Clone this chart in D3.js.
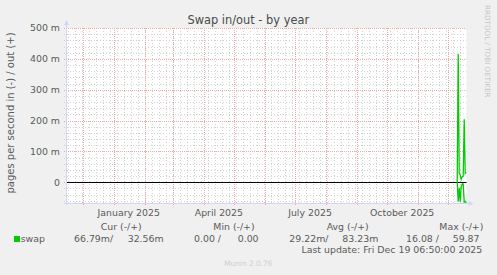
<!DOCTYPE html>
<html><head><meta charset="utf-8">
<script src="https://cdn.jsdelivr.net/npm/d3@7"></script>
<style>body{margin:0;background:#F0F0F0}svg{display:block}text{font-family:"DejaVu Sans",sans-serif}</style>
</head><body>
<script>
// ---- data ----
const title = "Swap in/out - by year";
const yLabel = "pages per second in (-) / out (+)";
const rangeStart = "2024-11-14T06:50:00Z";
const rangeEnd = "2025-12-19T06:50:00Z";
const dates = ["2025-12-10","2025-12-11","2025-12-12","2025-12-13","2025-12-14","2025-12-15","2025-12-16","2025-12-17","2025-12-18","2025-12-19"];
const swapIn  = [0, 0.062, 0.018, 0.063, 0.014, 0.005, 0.005, 0.064, 0.062, 0.067]; // drawn below zero
const swapOut = [0, 0.416, 0.031, 0.024, 0.010, 0.018, 0.020, 0.204, 0.029, 0.033];
const yTicks = [0, 0.1, 0.2, 0.3, 0.4, 0.5];
const yTickLabels = ["0", "100 m", "200 m", "300 m", "400 m", "500 m"];
const xLabelMonths = ["2025-01-01", "2025-04-01", "2025-07-01", "2025-10-01"];
const xLabels = ["January 2025", "April 2025", "July 2025", "October 2025"];
const legendHeaders = ["Cur (-/+)", "Min (-/+)", "Avg (-/+)", "Max (-/+)"];
const legendIn = ["66.79m/", "0.00 /", "29.22m/", "16.08 /"];
const legendOut = ["32.56m", "0.00", "83.23m", "59.87"];
const seriesName = "swap";
const lastUpdate = "Last update: Fri Dec 19 06:50:00 2025";
const version = "Munin 2.0.76";
const watermark = "RRDTOOL / TOBI OETIKER";

// ---- drawing ----
const W = 497, H = 275;
const L = 66, R = 466.5, T = 28, B = 203;
const svg = d3.select("body").append("svg").attr("width", W).attr("height", H);
svg.append("rect").attr("width", W).attr("height", H).attr("fill", "#F0F0F0");
svg.append("rect").attr("x", L).attr("y", T).attr("width", R - L).attr("height", B - T).attr("fill", "#fff");

const x = d3.scaleUtc().domain([new Date(rangeStart), new Date(rangeEnd)]).range([L, R]);
const y = d3.scaleLinear().domain([-0.067, 0.5]).range([B, T]);

const minorCol = "#d2d2d2", majorCol = "#eeaaaa";
const g = svg.append("g");
// minor horizontal grid
const minorY = d3.range(-60, 501, 20).map(v => v / 1000).filter(v => !yTicks.some(t => Math.abs(t - v) < 1e-9));
g.selectAll(".hmin").data(minorY).join("line")
  .attr("x1", L - 2).attr("x2", R).attr("y1", d => Math.round(y(d)) + 0.5).attr("y2", d => Math.round(y(d)) + 0.5)
  .attr("stroke", minorCol).attr("stroke-dasharray", "1,2");
// minor vertical grid (weekly)
const weeks = d3.utcSaturday.range(x.domain()[0], x.domain()[1]);
g.selectAll(".vmin").data(weeks).join("line")
  .attr("x1", d => Math.round(x(d)) + 0.5).attr("x2", d => Math.round(x(d)) + 0.5).attr("y1", T).attr("y2", B + 2)
  .attr("stroke", minorCol).attr("stroke-dasharray", "1,2");
// major horizontal grid
g.selectAll(".hmaj").data(yTicks).join("line")
  .attr("x1", L - 2).attr("x2", R).attr("y1", d => Math.round(y(d)) + 0.5).attr("y2", d => Math.round(y(d)) + 0.5)
  .attr("stroke", majorCol).attr("stroke-dasharray", "1,1");
// major vertical grid (monthly)
const months = d3.utcMonth.range(x.domain()[0], x.domain()[1]);
g.selectAll(".vmaj").data(months).join("line")
  .attr("x1", d => Math.round(x(d)) + 0.5).attr("x2", d => Math.round(x(d)) + 0.5).attr("y1", T).attr("y2", B + 3)
  .attr("stroke", majorCol).attr("stroke-dasharray", "1,1");

// axes
const axisCol = "#CFD6F8";
svg.append("line").attr("x1", L + 0.5).attr("x2", L + 0.5).attr("y1", B + 2).attr("y2", T - 4).attr("stroke", axisCol);
svg.append("line").attr("x1", L - 2).attr("x2", R + 3).attr("y1", B + 0.5).attr("y2", B + 0.5).attr("stroke", axisCol);
svg.append("path").attr("d", `M${L - 2},${T - 3}L${L + 3},${T - 3}L${L + 0.5},${T - 8}Z`).attr("fill", axisCol);
svg.append("path").attr("d", `M${R + 2},${B - 2}L${R + 2},${B + 3}L${R + 7},${B + 0.5}Z`).attr("fill", axisCol);

// y tick labels
svg.selectAll(".ylab").data(yTicks).join("text")
  .attr("x", 60).attr("y", d => y(d) + 3.4).attr("text-anchor", "end")
  .attr("font-size", 9.4).attr("fill", "#5a5a5a").text((d, i) => yTickLabels[i]);
// x labels (centered mid-month)
svg.selectAll(".xlab").data(xLabelMonths).join("text")
  .attr("x", d => x(d3.utcDay.offset(new Date(d + "T00:00:00Z"), 15))).attr("y", 215.5).attr("text-anchor", "middle")
  .attr("font-size", 9.4).attr("fill", "#5a5a5a").text((d, i) => xLabels[i]);

// zero line
svg.append("line").attr("x1", L + 1).attr("x2", R).attr("y1", Math.round(y(0)) + 0.5).attr("y2", Math.round(y(0)) + 0.5).attr("stroke", "#000");

// data
const t = dates.map(d => new Date(d + "T00:00:00Z"));
const line = d3.line().x(d => x(d[0])).y(d => y(d[1]));
svg.append("path").attr("d", line(t.map((d, i) => [d, swapOut[i]])))
  .attr("fill", "none").attr("stroke", "#00CC00").attr("stroke-width", 1.3);
svg.append("path").attr("d", line(t.map((d, i) => [d, -swapIn[i]])))
  .attr("fill", "none").attr("stroke", "#00CC00").attr("stroke-width", 1.3);

// title
svg.append("text").attr("x", 248.3).attr("y", 24).attr("text-anchor", "middle")
  .attr("font-size", 11.4).attr("fill", "#4a4a4a").text(title);
// y label
svg.append("text").attr("transform", "translate(13.5,113) rotate(-90)").attr("text-anchor", "middle")
  .attr("font-size", 10).attr("fill", "#5a5a5a").text(yLabel);
// watermark
svg.append("text").attr("transform", "translate(484.5,5) rotate(90)").attr("text-anchor", "start")
  .attr("font-size", 7.2).attr("fill", "#c8c8c8").text(watermark);

// legend
const hdrX = [100.7, 213.3, 326.7, 439.3];
const inX = [74, 194, 289.3, 406];
const outX = [127.7, 237.7, 342.3, 452.7];
svg.selectAll(".lh").data(legendHeaders).join("text").attr("x", (d, i) => hdrX[i]).attr("y", 230.3)
  .attr("font-size", 9.4).attr("fill", "#5a5a5a").text(d => d);
svg.selectAll(".li").data(legendIn).join("text").attr("x", (d, i) => inX[i]).attr("y", 242.3)
  .attr("font-size", 9.4).attr("fill", "#5a5a5a").text(d => d);
svg.selectAll(".lo").data(legendOut).join("text").attr("x", (d, i) => outX[i]).attr("y", 242.3)
  .attr("font-size", 9.4).attr("fill", "#5a5a5a").text(d => d);
svg.append("rect").attr("x", 14).attr("y", 236).attr("width", 6).attr("height", 6).attr("fill", "#00CC00");
svg.append("text").attr("x", 20.7).attr("y", 242.3).attr("font-size", 9.4).attr("fill", "#5a5a5a").text(seriesName);
svg.append("text").attr("x", 482.3).attr("y", 253.3).attr("text-anchor", "end")
  .attr("font-size", 9.4).attr("fill", "#5a5a5a").text(lastUpdate);
svg.append("text").attr("x", 248.3).attr("y", 265.5).attr("text-anchor", "middle")
  .attr("font-size", 7.4).attr("fill", "#cfcfcf").text(version);
</script>
</body></html>
